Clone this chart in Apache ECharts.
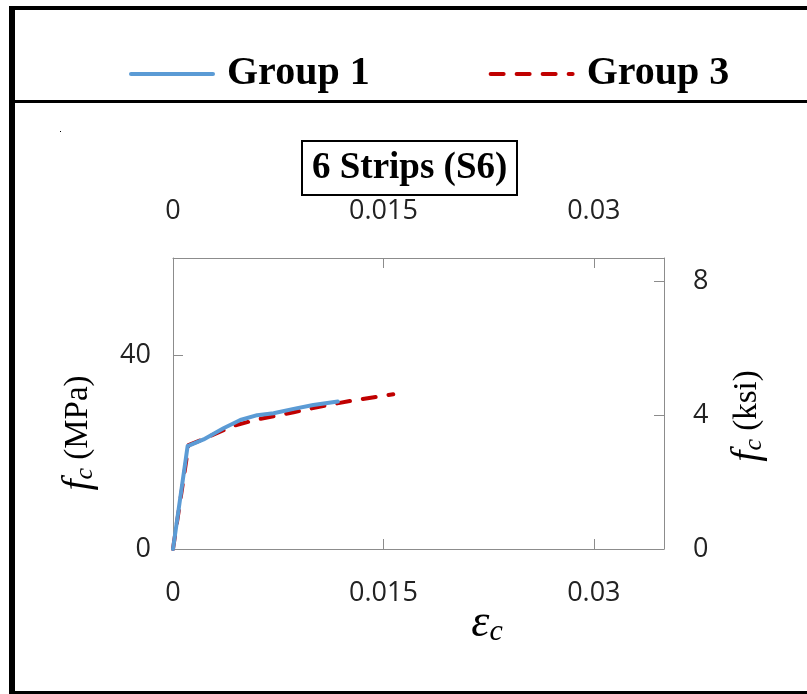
<!DOCTYPE html>
<html>
<head>
<meta charset="utf-8">
<script src="https://cdn.jsdelivr.net/npm/echarts@6/dist/echarts.min.js"></script>
<style>
html,body{margin:0;padding:0;background:#fff;}
#chart{width:807px;height:694px;}
</style>
</head>
<body>
<div id="chart"></div>
<script>
// ---- data ----
const seriesNames = ['Group 1', 'Group 3'];
const strainG1 = [0, 0.00104, 0.00218, 0.0036, 0.0048, 0.0060, 0.00717, 0.0086, 0.0100, 0.01175];
const stressG1 = [0, 21.2, 22.6, 24.9, 26.6, 27.6, 28.0, 28.9, 29.7, 30.4];
const strainG3 = [0, 0.00111, 0.00218, 0.00432, 0.0060, 0.0086, 0.0107, 0.0126, 0.0157];
const stressG3 = [0, 21.4, 22.7, 25.4, 26.7, 28.2, 29.5, 30.5, 31.9];
const xTickLabels = ['0', '0.015', '0.03'];
const yLeftTickLabels = ['0', '40'];
const yRightTickLabels = ['0', '4', '8'];
const titleText = '6 Strips (S6)';
const MPA_PER_KSI = 6.895;

const pairs = (xs, ys) => xs.map((x, i) => [x, ys[i]]);
const xFmt = v => {
  const i = Math.round(v / 0.015);
  return (Math.abs(v - i * 0.015) < 1e-9 && xTickLabels[i] !== undefined) ? xTickLabels[i] : '';
};
const yLFmt = v => {
  const i = Math.round(v / 40);
  return (Math.abs(v - i * 40) < 1e-9 && yLeftTickLabels[i] !== undefined) ? yLeftTickLabels[i] : '';
};
const yRFmt = v => {
  const i = Math.round(v / 4);
  return (Math.abs(v - i * 4) < 1e-9 && yRightTickLabels[i] !== undefined) ? yRightTickLabels[i] : '';
};

const axisGray = '#8c8c8c';
const labelFont = "'Open Sans', 'Noto Sans', sans-serif";
const serif = "'Liberation Serif', 'DejaVu Serif', serif";

const axisLineCfg = {show: true, onZero: false, lineStyle: {color: axisGray, width: 1}};
const axisTickCfg = {show: true, inside: true, length: 10, lineStyle: {color: axisGray}};

const baseX = {
  type: 'value', min: 0, max: 0.035, interval: 0.015,
  axisLine: axisLineCfg,
  axisTick: axisTickCfg,
  splitLine: {show: false},
  axisLabel: {formatter: xFmt, fontFamily: labelFont, fontSize: 27, color: '#222', showMaxLabel: false}
};

const nameRich = {
  f: {fontFamily: serif, fontStyle: 'italic', fontSize: 40, fill: '#000'},
  c: {fontFamily: serif, fontStyle: 'italic', fontSize: 26, fill: '#000', verticalAlign: 'bottom', padding: [14, 0, 0, 0]},
  n: {fontFamily: serif, fontSize: 33, fill: '#000'}
};

const chart = echarts.init(document.getElementById('chart'), null, {renderer: 'canvas'});
chart.setOption({
  backgroundColor: '#fff',
  animation: false,
  title: {
    text: titleText,
    left: 302, top: 141,
    borderColor: '#000', borderWidth: 2,
    padding: [5, 10, 5, 10],
    textStyle: {fontFamily: serif, fontWeight: 'bold', fontSize: 37, color: '#000', lineHeight: 44}
  },
  legend: {
    data: seriesNames,
    left: 129, top: 54, padding: 0,
    itemWidth: 82, itemHeight: 14,
    itemGap: 119,
    itemStyle: {opacity: 0},
    lineStyle: {width: 4},
    textStyle: {fontFamily: serif, fontWeight: 'bold', fontSize: 40, color: '#000', lineHeight: 40, padding: [0, 0, 0, 9]}
  },
  grid: {left: 173, right: 143, top: 258, bottom: 145, containLabel: false},
  xAxis: [
    Object.assign({}, baseX, {position: 'bottom', axisLabel: Object.assign({}, baseX.axisLabel, {margin: 31})}),
    Object.assign({}, baseX, {position: 'top', axisLabel: Object.assign({}, baseX.axisLabel, {margin: 33})})
  ],
  yAxis: [
    {
      type: 'value', min: 0, max: 60, interval: 40, position: 'left',
      axisLine: axisLineCfg, axisTick: axisTickCfg,
      splitLine: {show: false},
      axisLabel: {formatter: yLFmt, fontFamily: labelFont, fontSize: 27, color: '#222', margin: 22, showMaxLabel: false}
    },
    {
      type: 'value', min: 0, max: 60 / MPA_PER_KSI, interval: 4, position: 'right',
      axisLine: axisLineCfg, axisTick: axisTickCfg,
      splitLine: {show: false},
      axisLabel: {formatter: yRFmt, fontFamily: labelFont, fontSize: 27, color: '#222', margin: 29, showMaxLabel: false}
    }
  ],
  series: [
    {
      name: seriesNames[0], type: 'line', xAxisIndex: 0, yAxisIndex: 0,
      data: pairs(strainG1, stressG1), showSymbol: false, symbol: 'none', smooth: false, z: 4,
      lineStyle: {color: '#5B9BD5', width: 4, cap: 'round', join: 'round'},
      itemStyle: {color: '#5B9BD5'}
    },
    {
      name: seriesNames[1], type: 'line', xAxisIndex: 0, yAxisIndex: 0,
      data: pairs(strainG3, stressG3), showSymbol: false, symbol: 'none', smooth: false, z: 3,
      lineStyle: {color: '#C00000', width: 4, type: [13, 13], cap: 'round', join: 'round'},
      itemStyle: {color: '#C00000'}
    }
  ],
  graphic: [
    {type: 'rect', shape: {x: 9, y: 6, width: 800, height: 4}, style: {fill: '#000'}, silent: true},
    {type: 'rect', shape: {x: 9, y: 6, width: 6, height: 690}, style: {fill: '#000'}, silent: true},
    {type: 'rect', shape: {x: 9, y: 100, width: 800, height: 3}, style: {fill: '#000'}, silent: true},
    {type: 'rect', shape: {x: 9, y: 691, width: 800, height: 4}, style: {fill: '#000'}, silent: true},
    {type: 'rect', shape: {x: 60, y: 131, width: 1, height: 1}, style: {fill: '#000'}, silent: true},
    {
      type: 'text', x: 78, y: 433, rotation: Math.PI / 2,
      style: {text: '{f|f}{c|c}{n| (MPa)}', align: 'center', verticalAlign: 'middle', rich: nameRich}
    },
    {
      type: 'text', x: 747, y: 416, rotation: Math.PI / 2,
      style: {text: '{f|f}{c|c}{n| (ksi)}', align: 'center', verticalAlign: 'middle', rich: nameRich}
    },
    {
      type: 'text', x: 487, y: 624,
      style: {
        text: '{e|ε}{c|c}', align: 'center', verticalAlign: 'middle',
        rich: {
          e: {fontFamily: serif, fontStyle: 'italic', fontSize: 46, fill: '#000'},
          c: {fontFamily: serif, fontStyle: 'italic', fontSize: 30, fill: '#000', verticalAlign: 'bottom', padding: [16, 0, 0, 0]}
        }
      }
    }
  ]
});
</script>
</body>
</html>
